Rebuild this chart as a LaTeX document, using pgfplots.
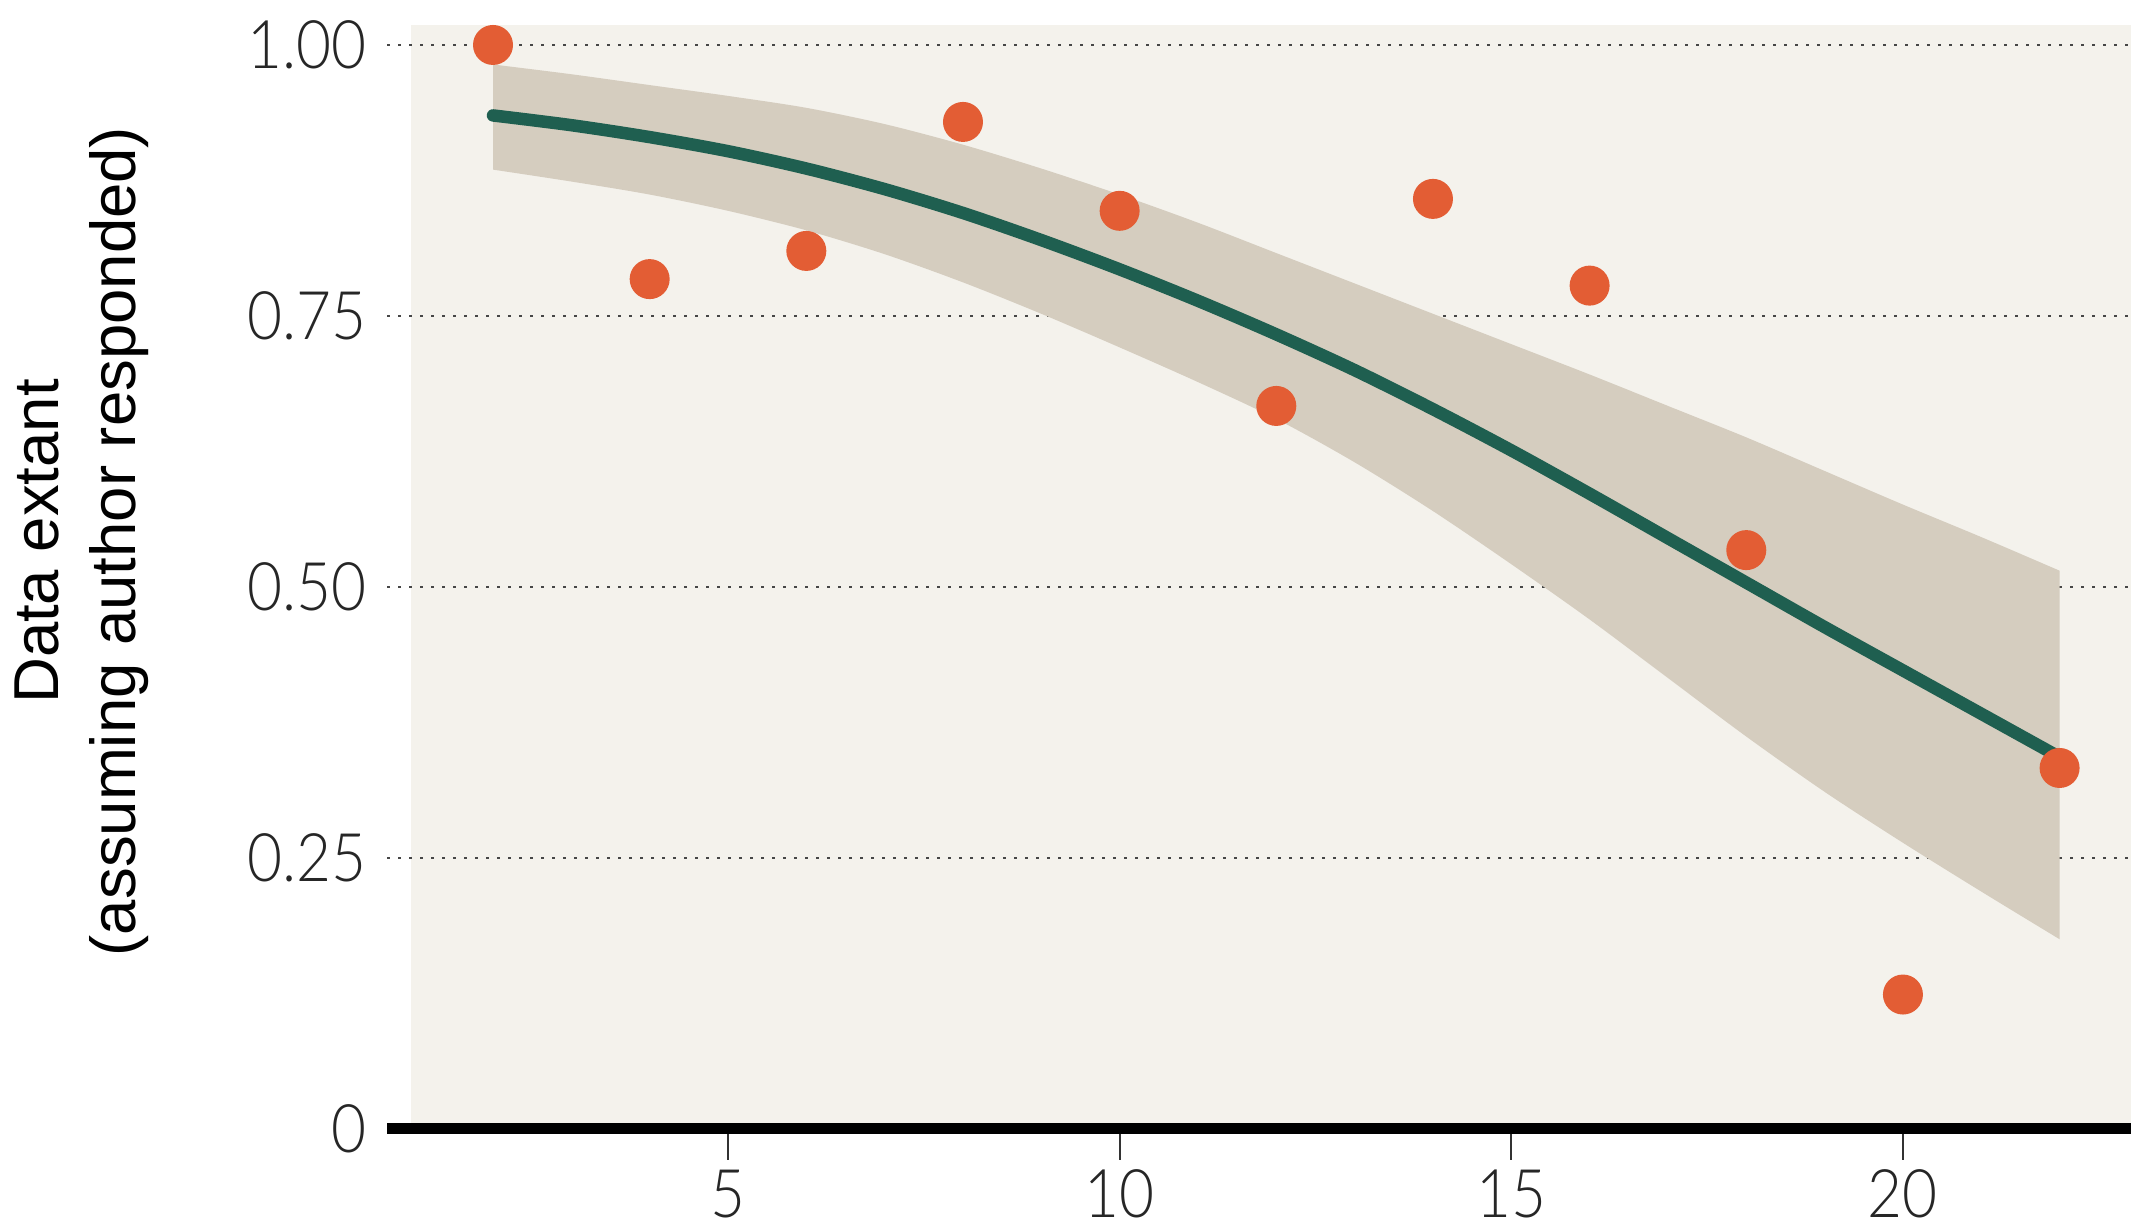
\documentclass[border=0pt]{standalone}
\usepackage{pgfplots}
\pgfplotsset{compat=1.18}
\usepgfplotslibrary{fillbetween}
\usepackage{fontspec}
\setmainfont{Liberation Sans}
\newfontfamily\tickfont[FakeStretch=0.9]{Lato Light}
\definecolor{bgc}{RGB}{244,242,236}
\definecolor{bandc}{RGB}{213,205,191}
\definecolor{linec}{RGB}{31,95,80}
\definecolor{dotc}{RGB}{227,93,52}
\definecolor{gridc}{RGB}{70,70,70}

\begin{document}
\begin{tikzpicture}
\begin{axis}[
  set layers=standard,
  scale only axis,
  width=348.74pt, height=221.14pt,
  xmin=0.65, xmax=22.91, ymin=0, ymax=1.02,
  axis lines*=left,
  x axis line style={line width=2.2pt, black, -},
  y axis line style={draw=none},
  xtick={5,10,15,20}, xticklabels={5,10,15,20},
  ytick={0,0.25,0.5,0.75,1}, yticklabels={0,0.25,0.50,0.75,1.00},
  xtick align=outside,
  ytick align=inside,
  major tick length=6.2pt,
  xtick style={line width=0.4pt, color=black!80},
  ytick style={draw=none},
  ticklabel style={font=\tickfont\fontsize{13.4}{14}\selectfont, inner sep=0pt, text=black!85},
  xticklabel shift=1.8pt,
  yticklabel style={anchor=east},
  yticklabel shift=4pt,
  ymajorgrids,
  grid style={line width=0.5pt, color=gridc, dash pattern=on 0.6pt off 1.6pt},
  clip=false,
  ylabel={Data extant\\(assuming author responded)},
  every axis y label/.style={at={(axis cs:-3.253,0.542)}, rotate=90, anchor=center, align=center, font=\fontsize{12.7}{15.4}\selectfont},
]
% background panel
\addplot[on layer=axis background, fill=bgc, draw=none] coordinates {(0.95,0) (0.95,1.018) (22.91,1.018) (22.91,0)} -- cycle;
% confidence band edges
\addplot[name path=up, draw=none, smooth] coordinates {
(2,0.982)(3,0.973)(4,0.963)(5,0.953)(6,0.942)(7,0.927)(8,0.908)(9,0.886)(10,0.862)(11,0.836)(12,0.808)(13,0.780)(14,0.752)(15,0.724)(16,0.696)(17,0.667)(18,0.638)(19,0.607)(20,0.576)(21,0.546)(22,0.515)
};
\addplot[name path=lo, draw=none, smooth] coordinates {
(2,0.885)(3,0.874)(4,0.862)(5,0.847)(6,0.829)(7,0.807)(8,0.781)(9,0.752)(10,0.721)(11,0.689)(12,0.655)(13,0.615)(14,0.570)(15,0.521)(16,0.470)(17,0.416)(18,0.362)(19,0.311)(20,0.264)(21,0.219)(22,0.175)
};
\addplot[on layer=axis background, fill=bandc, draw=none] fill between[of=up and lo];
% fitted line
\addplot[linec, line width=2.5pt, line cap=round, smooth] coordinates {
(2,0.935)(3,0.926)(4,0.915)(5,0.902)(6,0.886)(7,0.867)(8,0.845)(9,0.820)(10,0.793)(11,0.764)(12,0.733)(13,0.700)(14,0.664)(15,0.626)(16,0.586)(17,0.545)(18,0.504)(19,0.463)(20,0.423)(21,0.383)(22,0.343)
};
% observed points
\addplot[only marks, mark=*, mark size=3.8pt, color=dotc, mark options={fill=dotc, draw=dotc}] coordinates {
(2,1.000)(4,0.784)(6,0.810)(8,0.929)(10,0.847)(12,0.667)(14,0.858)(16,0.778)(18,0.534)(20,0.124)(22,0.333)
};
\coordinate (BL) at (axis cs:-4.294,-0.0895);
\coordinate (TR) at (axis cs:22.912,1.0415);
\end{axis}
\pgfresetboundingbox
\useasboundingbox (BL) rectangle (TR);
\end{tikzpicture}
\end{document}
